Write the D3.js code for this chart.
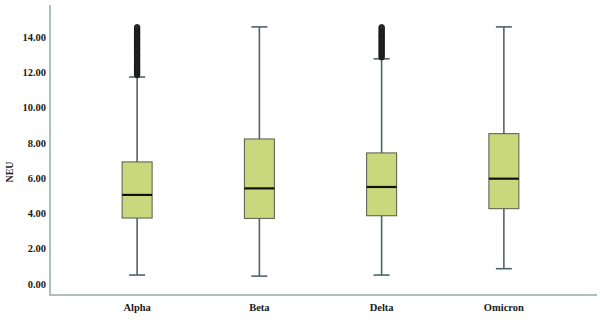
<!DOCTYPE html>
<html>
<head>
<meta charset="utf-8">
<script src="https://cdn.jsdelivr.net/npm/d3@7"></script>
<style>
  html, body { margin: 0; padding: 0; background: #fff; }
  svg text { font-family: "Liberation Serif", serif; font-weight: bold; fill: #1a1a1a; }
</style>
</head>
<body>
<div id="chart"></div>
<script>
// Box plot of NEU by variant

const variants = ['Alpha', 'Beta', 'Delta', 'Omicron'];
const lowWhisker = [0.51, 0.45, 0.51, 0.87];
const q1 = [3.74, 3.72, 3.87, 4.27];
const median = [5.05, 5.42, 5.50, 5.97];
const q3 = [6.92, 8.22, 7.43, 8.52];
const highWhisker = [11.73, 14.57, 12.76, 14.57];

const alphaOutliers = [11.85, 11.95, 12.05, 12.15, 12.25, 12.35, 12.45, 12.55, 12.65, 12.75,
  12.85, 12.95, 13.05, 13.15, 13.25, 13.35, 13.45, 13.55, 13.65, 13.75, 13.85, 13.95,
  14.05, 14.15, 14.25, 14.35, 14.45, 14.55];
const deltaOutliers = [12.85, 12.95, 13.05, 13.15, 13.25, 13.35, 13.45, 13.55, 13.65, 13.75,
  13.85, 13.95, 14.05, 14.15, 14.25, 14.35, 14.45, 14.55];
const outliers = [alphaOutliers, [], deltaOutliers, []];

const yTicks = [0, 2, 4, 6, 8, 10, 12, 14];

const width = 600, height = 324;
const svg = d3.select('#chart').append('svg')
  .attr('width', width)
  .attr('height', height);

const x = d3.scalePoint()
  .domain(variants)
  .range([76, 565])
  .padding(0.5);

const y = d3.scaleLinear()
  .domain([-0.62, 15.81])
  .range([295, 5]);

const axisColor = '#adbfbe';
const whiskerColor = '#4f6466';
const boxW = 30, capW = 16;

// y tick labels
svg.append('g')
  .selectAll('text')
  .data(yTicks)
  .enter()
  .append('text')
  .attr('x', 46)
  .attr('y', d => y(d))
  .attr('dy', '0.35em')
  .attr('text-anchor', 'end')
  .style('font-size', '10.5px')
  .text(d => d.toFixed(2));

// y axis title
svg.append('text')
  .attr('transform', 'translate(13,172) rotate(-90)')
  .attr('text-anchor', 'middle')
  .style('font-size', '10px')
  .text('NEU');

// x labels
svg.append('g')
  .selectAll('text')
  .data(variants)
  .enter()
  .append('text')
  .attr('x', d => x(d))
  .attr('y', 311)
  .attr('text-anchor', 'middle')
  .style('font-size', '10.5px')
  .text(d => d);

// axes lines
svg.append('line')
  .attr('x1', 50).attr('x2', 50)
  .attr('y1', y.range()[1]).attr('y2', y.range()[0])
  .attr('stroke', axisColor).attr('stroke-width', 2);
svg.append('line')
  .attr('x1', 49).attr('x2', 597)
  .attr('y1', y.range()[0]).attr('y2', y.range()[0])
  .attr('stroke', axisColor).attr('stroke-width', 2);

const groups = svg.append('g')
  .selectAll('g')
  .data(variants)
  .enter()
  .append('g');

// whisker stems
groups.append('line')
  .attr('x1', d => x(d)).attr('x2', d => x(d))
  .attr('y1', (d, i) => y(lowWhisker[i]))
  .attr('y2', (d, i) => y(highWhisker[i]))
  .attr('stroke', whiskerColor).attr('stroke-width', 1.6);

// caps
groups.selectAll('line.cap')
  .data((d, i) => [{ v: d, val: lowWhisker[i] }, { v: d, val: highWhisker[i] }])
  .enter()
  .append('line')
  .attr('class', 'cap')
  .attr('x1', d => x(d.v) - capW / 2).attr('x2', d => x(d.v) + capW / 2)
  .attr('y1', d => y(d.val)).attr('y2', d => y(d.val))
  .attr('stroke', whiskerColor).attr('stroke-width', 1.6);

// boxes
groups.append('rect')
  .attr('x', d => x(d) - boxW / 2)
  .attr('width', boxW)
  .attr('y', (d, i) => y(q3[i]))
  .attr('height', (d, i) => y(q1[i]) - y(q3[i]))
  .attr('fill', '#c9d87c')
  .attr('stroke', '#555b4a')
  .attr('stroke-width', 1);

// medians
groups.append('line')
  .attr('x1', d => x(d) - boxW / 2).attr('x2', d => x(d) + boxW / 2)
  .attr('y1', (d, i) => y(median[i])).attr('y2', (d, i) => y(median[i]))
  .attr('stroke', '#111').attr('stroke-width', 2.2);

// outliers
groups.selectAll('circle')
  .data((d, i) => outliers[i].map(v => ({ v: d, val: v })))
  .enter()
  .append('circle')
  .attr('cx', d => x(d.v))
  .attr('cy', d => y(d.val))
  .attr('r', 2.8)
  .attr('fill', '#2a2a2a')
  .attr('stroke', '#111')
  .attr('stroke-width', 0.8);
</script>
</body>
</html>
